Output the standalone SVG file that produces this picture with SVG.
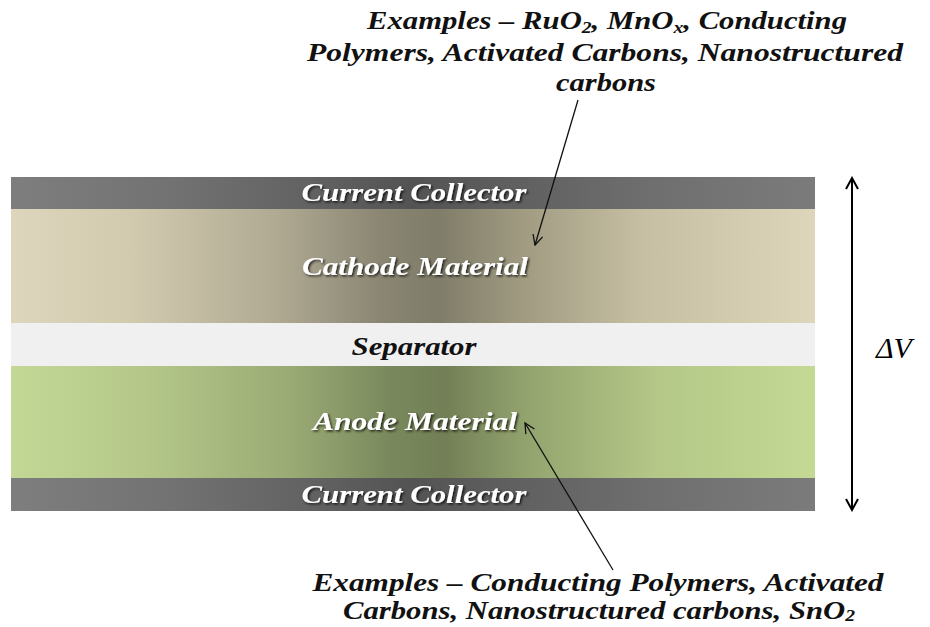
<svg xmlns="http://www.w3.org/2000/svg" width="930" height="627" viewBox="0 0 930 627">
<style>
.lbl{font-family:"Liberation Serif",serif;font-weight:bold;font-style:italic;font-size:25px;text-anchor:middle}
.wt{fill:#ffffff;filter:url(#sh)}
.ex{font-family:"Liberation Serif",serif;font-weight:bold;font-style:italic;font-size:25px;text-anchor:middle;fill:#111}
.sub{font-size:16px}
.ln{stroke:#111;stroke-width:1.3;fill:none}
</style>
<defs>
<linearGradient id="gCol" x1="11" x2="815" y1="0" y2="0" gradientUnits="userSpaceOnUse">
<stop offset="0" stop-color="#7e7e7e"/>
<stop offset="0.2" stop-color="#727272"/>
<stop offset="0.38" stop-color="#616161"/>
<stop offset="0.5" stop-color="#535353"/>
<stop offset="0.62" stop-color="#5f5f5f"/>
<stop offset="0.8" stop-color="#6f6f6f"/>
<stop offset="1" stop-color="#7b7b7b"/>
</linearGradient>
<linearGradient id="gCat" x1="11" x2="815" y1="0" y2="0" gradientUnits="userSpaceOnUse">
<stop offset="0" stop-color="#ddd6bc"/>
<stop offset="0.15" stop-color="#d1caaf"/>
<stop offset="0.33" stop-color="#b0aa93"/>
<stop offset="0.46" stop-color="#8a8673"/>
<stop offset="0.53" stop-color="#7f7c69"/>
<stop offset="0.63" stop-color="#9e997f"/>
<stop offset="0.78" stop-color="#c5bea3"/>
<stop offset="1" stop-color="#ddd6ba"/>
</linearGradient>
<linearGradient id="gAn" x1="11" x2="815" y1="0" y2="0" gradientUnits="userSpaceOnUse">
<stop offset="0" stop-color="#c3d895"/>
<stop offset="0.17" stop-color="#b4c789"/>
<stop offset="0.35" stop-color="#9aaa74"/>
<stop offset="0.47" stop-color="#7a895d"/>
<stop offset="0.54" stop-color="#727f56"/>
<stop offset="0.64" stop-color="#93a36e"/>
<stop offset="0.8" stop-color="#b4c787"/>
<stop offset="1" stop-color="#c3d994"/>
</linearGradient>
<filter id="sh" x="-10%" y="-30%" width="120%" height="160%">
<feDropShadow dx="1.5" dy="1.5" stdDeviation="1" flood-color="#000" flood-opacity="0.75"/>
</filter>
<marker id="ah" viewBox="0 0 12 12" refX="11" refY="6" markerWidth="12" markerHeight="12" markerUnits="userSpaceOnUse" orient="auto">
<path d="M1,1 L11,6 L1,11" fill="none" stroke="#111" stroke-width="1.3"/>
</marker>
<marker id="ah2" viewBox="0 0 14 14" refX="12" refY="7" markerWidth="14" markerHeight="14" markerUnits="userSpaceOnUse" orient="auto-start-reverse">
<path d="M1,1 L12,7 L1,13" fill="none" stroke="#000" stroke-width="2"/>
</marker>
</defs>
<rect width="930" height="627" fill="#ffffff"/>
<g id="top-collector">
<rect x="11" y="177" width="804" height="32" fill="url(#gCol)"/>
<text class="lbl wt" x="414" y="201" textLength="225" lengthAdjust="spacingAndGlyphs">Current Collector</text>
</g>
<g id="cathode">
<rect x="11" y="209" width="804" height="114" fill="url(#gCat)"/>
<text class="lbl wt" x="415" y="275" textLength="226" lengthAdjust="spacingAndGlyphs">Cathode Material</text>
</g>
<g id="separator">
<rect x="11" y="323" width="804" height="43" fill="#f0f0f0"/>
<text class="lbl" x="414" y="355" fill="#111" textLength="125" lengthAdjust="spacingAndGlyphs">Separator</text>
</g>
<g id="anode">
<rect x="11" y="366" width="804" height="112" fill="url(#gAn)"/>
<text class="lbl wt" x="415" y="430" textLength="204" lengthAdjust="spacingAndGlyphs">Anode Material</text>
</g>
<g id="bottom-collector">
<rect x="11" y="478" width="804" height="33" fill="url(#gCol)"/>
<text class="lbl wt" x="414" y="503" textLength="225" lengthAdjust="spacingAndGlyphs">Current Collector</text>
</g>
<g id="cathode-examples">
<text class="ex" x="607" y="29" textLength="480" lengthAdjust="spacingAndGlyphs">Examples – RuO<tspan class="sub" dy="4">2</tspan><tspan dy="-4">, MnO</tspan><tspan class="sub" dy="4">x</tspan><tspan dy="-4">, Conducting</tspan></text>
<text class="ex" x="605" y="61" textLength="596" lengthAdjust="spacingAndGlyphs">Polymers, Activated Carbons, Nanostructured</text>
<text class="ex" x="606" y="91" textLength="100" lengthAdjust="spacingAndGlyphs">carbons</text>
</g>
<g id="anode-examples">
<text class="ex" x="598" y="591" textLength="571" lengthAdjust="spacingAndGlyphs">Examples – Conducting Polymers, Activated</text>
<text class="ex" x="599" y="619" textLength="512" lengthAdjust="spacingAndGlyphs">Carbons, Nanostructured carbons, SnO<tspan class="sub" dy="2">2</tspan></text>
</g>
<g id="voltage">
<text x="876" y="358" font-family="'Liberation Serif',serif" font-style="italic" font-size="30" fill="#000">ΔV</text>
</g>
<g id="connectors">
<line class="ln" x1="578" y1="100" x2="535" y2="245" marker-end="url(#ah)"/>
<line class="ln" x1="613" y1="570" x2="525" y2="423" marker-end="url(#ah)"/>
<line x1="852" y1="178" x2="852" y2="510" stroke="#000" stroke-width="2" marker-start="url(#ah2)" marker-end="url(#ah2)"/>
</g>
</svg>
